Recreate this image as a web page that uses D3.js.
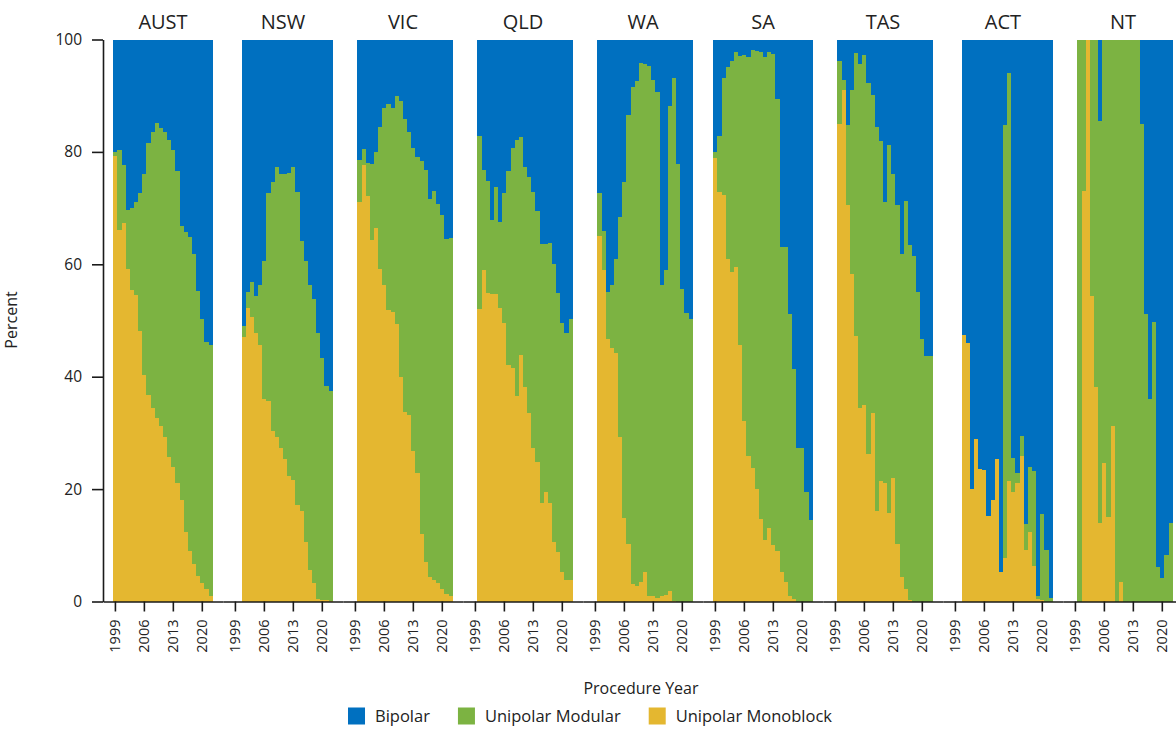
<!DOCTYPE html>
<html>
<head>
<meta charset="utf-8">
<script src="https://cdn.jsdelivr.net/npm/d3@7"></script>
<style>
  html, body { margin: 0; padding: 0; background: #fff; }
  svg { display: block; font-family: "Segoe UI", "Open Sans", "Noto Sans", sans-serif; }
</style>
</head>
<body>
<svg id="chart" width="1176" height="733"></svg>
<script>
// Panels (states) in display order and the first registry year for each
const states = ["AUST", "NSW", "VIC", "QLD", "WA", "SA", "TAS", "ACT", "NT"];
const startYears = [1999, 2001, 2000, 2000, 2000, 1999, 2000, 2001, 2000];
const years = d3.range(1999, 2023);
const tickYears = [1999, 2006, 2013, 2020];
const yTicks = [0, 20, 40, 60, 80, 100];
const seriesNames = ["Bipolar", "Unipolar Modular", "Unipolar Monoblock"];
const seriesColors = ["#0070C0", "#7CB342", "#E4B730"];

// Percent of procedures by bearing type, one list per state, starting at its first year
const monoblock = [
  [79.3, 66.1, 67.4, 59.2, 55.5, 54.6, 48.2, 40.3, 36.8, 34.4, 32.6, 31.3, 29.3, 25.7, 24.0, 21.1, 18.0, 12.3, 9.0, 6.6, 4.6, 3.3, 2.3, 1.0],
  [47.0, 52.2, 50.7, 47.7, 45.7, 36.0, 35.7, 30.3, 29.3, 27.3, 25.3, 22.4, 21.7, 17.2, 16.1, 10.5, 5.6, 3.3, 0.5, 0.3, 0.2, 0.1],
  [71.1, 77.6, 72.2, 64.3, 66.4, 59.2, 56.3, 51.8, 51.6, 49.3, 39.9, 33.8, 33.2, 26.8, 22.8, 12.0, 7.1, 4.3, 3.9, 3.3, 2.3, 1.4, 1.0],
  [52.0, 59.0, 54.9, 54.8, 54.8, 52.3, 49.5, 42.0, 41.6, 36.6, 43.9, 38.2, 33.6, 27.4, 24.8, 17.6, 19.5, 17.6, 10.5, 8.8, 5.3, 3.9, 3.9],
  [65.1, 58.9, 46.7, 45.1, 44.3, 29.3, 14.9, 10.3, 3.2, 2.8, 3.5, 5.2, 1.0, 0.9, 0.7, 1.0, 1.1, 1.8, 0.1, 0, 0, 0, 0],
  [78.9, 72.8, 72.4, 61.0, 58.6, 59.5, 45.6, 32.2, 25.9, 23.7, 20.1, 14.7, 11.0, 13.0, 10.1, 9.0, 5.3, 3.5, 1.0, 0.5, 0, 0, 0, 0],
  [84.9, 91.1, 70.6, 58.2, 47.2, 34.5, 34.9, 26.3, 33.6, 16.1, 21.4, 21.1, 15.8, 22.0, 10.2, 4.4, 2.3, 0.3, 0, 0, 0, 0, 0],
  [47.4, 46.0, 20.1, 28.9, 23.5, 23.4, 15.3, 18.1, 25.3, 5.3, 7.7, 21.5, 19.5, 21.1, 25.9, 9.2, 12.3, 6.4, 0.5, 0.3, 0, 0],
  [0, 73.0, 100, 54.3, 38.2, 14.0, 24.7, 15.1, 31.3, 0, 3.5, 0, 0, 0, 0, 0, 0, 0, 0, 0, 0, 0, 0]
];
const modular = [
  [0.6, 14.3, 10.2, 10.5, 14.6, 16.5, 24.5, 35.7, 44.8, 49.2, 52.6, 52.9, 54.3, 56.5, 56.3, 55.5, 48.8, 53.5, 55.8, 55.2, 50.7, 47.0, 43.8, 44.7],
  [2.0, 2.9, 6.2, 6.7, 10.6, 24.5, 37.0, 44.4, 48.0, 48.8, 50.8, 53.9, 55.7, 55.6, 48.0, 50.0, 50.8, 50.6, 47.2, 43.1, 38.2, 37.4],
  [7.4, 2.9, 5.9, 13.5, 13.5, 25.2, 31.5, 36.8, 36.3, 40.6, 49.1, 52.1, 50.4, 53.9, 56.3, 66.3, 69.7, 67.4, 69.1, 67.4, 66.5, 63.1, 63.7],
  [30.9, 17.8, 19.9, 13.1, 18.9, 15.3, 23.2, 34.6, 39.1, 45.6, 38.7, 39.2, 41.9, 45.5, 44.7, 46.1, 44.2, 46.2, 49.5, 46.1, 44.2, 43.9, 46.3],
  [7.6, 7.1, 8.4, 11.2, 16.6, 39.1, 59.8, 76.2, 88.4, 89.8, 92.4, 90.5, 94.2, 91.9, 89.9, 55.3, 57.8, 86.4, 93.1, 77.8, 55.6, 51.3, 50.2],
  [1.0, 10.1, 20.7, 34.1, 37.5, 38.3, 51.4, 65.0, 71.0, 74.5, 77.8, 83.0, 85.9, 84.8, 87.4, 80.5, 57.7, 59.5, 50.1, 40.9, 27.3, 27.3, 19.4, 14.5],
  [11.2, 1.7, 14.1, 32.9, 50.4, 61.2, 62.3, 66.0, 56.5, 68.3, 60.6, 50.0, 65.5, 54.0, 60.4, 57.4, 68.9, 63.2, 61.4, 55.1, 46.7, 43.6, 43.6],
  [0, 0, 0, 0, 0, 0, 0, 0, 0, 0, 77.0, 72.6, 6.0, 1.7, 3.6, 4.6, 11.6, 16.8, 0.5, 15.2, 9.2, 0.7],
  [100, 27.0, 0, 45.7, 61.8, 71.5, 75.3, 84.9, 68.7, 100, 96.5, 100, 100, 100, 100, 84.9, 51.1, 36.0, 49.8, 6.1, 4.1, 8.2, 14.0]
];
const bipolar = [
  [20.1, 19.6, 22.4, 30.3, 29.9, 28.9, 27.3, 24.0, 18.4, 16.4, 14.8, 15.8, 16.4, 17.8, 19.7, 23.4, 33.2, 34.2, 35.2, 38.2, 44.7, 49.7, 53.9, 54.3],
  [51.0, 44.9, 43.1, 45.6, 43.7, 39.5, 27.3, 25.3, 22.7, 23.9, 23.9, 23.7, 22.6, 27.2, 35.9, 39.5, 43.6, 46.1, 52.3, 56.6, 61.6, 62.5],
  [21.5, 19.5, 21.9, 22.2, 20.1, 15.6, 12.2, 11.4, 12.1, 10.1, 11.0, 14.1, 16.4, 19.3, 20.9, 21.7, 23.2, 28.3, 27.0, 29.3, 31.2, 35.5, 35.3],
  [17.1, 23.2, 25.2, 32.1, 26.3, 32.4, 27.3, 23.4, 19.3, 17.8, 17.4, 22.6, 24.5, 27.1, 30.5, 36.3, 36.3, 36.2, 40.0, 45.1, 50.5, 52.2, 49.8],
  [27.3, 34.0, 44.9, 43.7, 39.1, 31.6, 25.3, 13.5, 8.4, 7.4, 4.1, 4.3, 4.8, 7.2, 9.4, 43.7, 41.1, 11.8, 6.8, 22.2, 44.4, 48.7, 49.8],
  [20.1, 17.1, 6.9, 4.9, 3.9, 2.2, 3.0, 2.8, 3.1, 1.8, 2.1, 2.3, 3.1, 2.2, 2.5, 10.5, 37.0, 37.0, 48.9, 58.6, 72.7, 72.7, 80.6, 85.5],
  [3.9, 7.2, 15.3, 8.9, 2.4, 4.3, 2.8, 7.7, 9.9, 15.6, 18.0, 28.9, 18.7, 24.0, 29.4, 38.2, 28.8, 36.5, 38.6, 44.9, 53.3, 56.4, 56.4],
  [52.6, 54.0, 79.9, 71.1, 76.5, 76.6, 84.7, 81.9, 74.7, 94.7, 15.3, 5.9, 74.5, 77.2, 70.5, 86.2, 76.1, 76.8, 99.0, 84.5, 90.8, 99.3],
  [0, 0, 0, 0, 0, 14.5, 0, 0, 0, 0, 0, 0, 0, 0, 0, 15.1, 48.9, 64.0, 50.2, 93.9, 95.9, 91.8, 86.0]
];

// Layout
const svg = d3.select("#chart");
const plotLeft = 103, panelWidth = 120, plotTop = 39.5, plotBottom = 601.5;
const textColor = "#222";
const axisColor = "#1a1a1a";

const color = d3.scaleOrdinal().domain(seriesNames).range(seriesColors);
const y = d3.scaleLinear().domain([0, 100]).range([plotBottom, plotTop]);
const x = d3.scaleBand().domain(years).range([0, panelWidth]).paddingInner(0).paddingOuter(2.5);

// Stack from the bottom: monoblock, modular, bipolar on top
const stackKeys = ["Unipolar Monoblock", "Unipolar Modular", "Bipolar"];
const stack = d3.stack().keys(stackKeys);

function styleAxis(sel) {
  sel.attr("font-family", null).attr("font-size", null).attr("text-anchor", null);
  sel.select(".domain").attr("stroke", axisColor).attr("stroke-width", 1.6);
  sel.selectAll(".tick line").attr("stroke", axisColor).attr("stroke-width", 1.6);
  sel.selectAll(".tick text").attr("fill", textColor);
}

states.forEach((state, i) => {
  const rows = monoblock[i].map((v, k) => ({
    year: startYears[i] + k,
    "Unipolar Monoblock": v,
    "Unipolar Modular": modular[i][k],
    "Bipolar": bipolar[i][k]
  }));
  const layers = stack(rows);

  const g = svg.append("g").attr("transform", `translate(${plotLeft + i * panelWidth},0)`);

  g.selectAll("g.layer")
    .data(layers)
    .join("g")
    .attr("class", "layer")
    .attr("fill", d => color(d.key))
    .selectAll("rect")
    .data(d => d.filter(p => p[1] - p[0] > 0))
    .join("rect")
    .attr("x", d => x(d.data.year))
    .attr("width", x.bandwidth())
    .attr("y", d => y(d[1]))
    .attr("height", d => y(d[0]) - y(d[1]))
    .attr("shape-rendering", "crispEdges");

  // Panel title
  g.append("text")
    .attr("x", panelWidth / 2)
    .attr("y", 29)
    .attr("text-anchor", "middle")
    .attr("fill", textColor)
    .style("font-size", "20px")
    .text(state);

  // Year axis with vertical labels, read bottom to top, starting 18px below the axis
  const xAxis = g.append("g")
    .attr("transform", `translate(0,${plotBottom})`)
    .call(d3.axisBottom(x).tickValues(tickYears).tickSize(10).tickSizeOuter(0).tickPadding(8))
    .call(styleAxis);
  xAxis.selectAll(".tick text")
    .style("font-size", "14.5px")
    .attr("text-anchor", "start")
    .attr("y", 0)
    .attr("dy", "0.35em")
    .attr("transform", "rotate(-90)")
    .each(function () {
      const len = this.getComputedTextLength();
      d3.select(this).attr("x", -18 - len);
    });
});

// Percent axis on the first panel
const yAxis = svg.append("g")
  .attr("transform", `translate(${plotLeft},0)`)
  .call(d3.axisLeft(y).tickValues(yTicks).tickSize(11).tickSizeOuter(0).tickPadding(10))
  .call(styleAxis);
yAxis.selectAll(".tick text")
  .style("font-size", "15.5px")
  .attr("text-anchor", "start")
  .each(function () {
    const len = this.getComputedTextLength();
    d3.select(this).attr("x", -21 - len);
  });

// Axis titles
svg.append("text")
  .attr("transform", "translate(17,320) rotate(-90)")
  .attr("text-anchor", "middle")
  .attr("fill", textColor)
  .style("font-size", "16px")
  .text("Percent");

svg.append("text")
  .attr("x", 641)
  .attr("y", 694)
  .attr("text-anchor", "middle")
  .attr("fill", textColor)
  .style("font-size", "16px")
  .text("Procedure Year");

// Legend, centred under the figure
const legend = svg.append("g");
const swatch = 17, swatchGap = 10, itemGap = 28;
let cursor = 0;
seriesNames.forEach(name => {
  const item = legend.append("g").attr("transform", `translate(${cursor},0)`);
  item.append("rect")
    .attr("x", 0).attr("y", -swatch / 2)
    .attr("width", swatch).attr("height", swatch)
    .attr("fill", color(name));
  const t = item.append("text")
    .attr("x", swatch + swatchGap)
    .attr("y", 0)
    .attr("dy", "0.35em")
    .attr("fill", textColor)
    .style("font-size", "16.5px")
    .text(name);
  cursor += swatch + swatchGap + t.node().getComputedTextLength() + itemGap;
});
const legendWidth = cursor - itemGap;
legend.attr("transform", `translate(${590 - legendWidth / 2},716)`);
</script>
</body>
</html>
